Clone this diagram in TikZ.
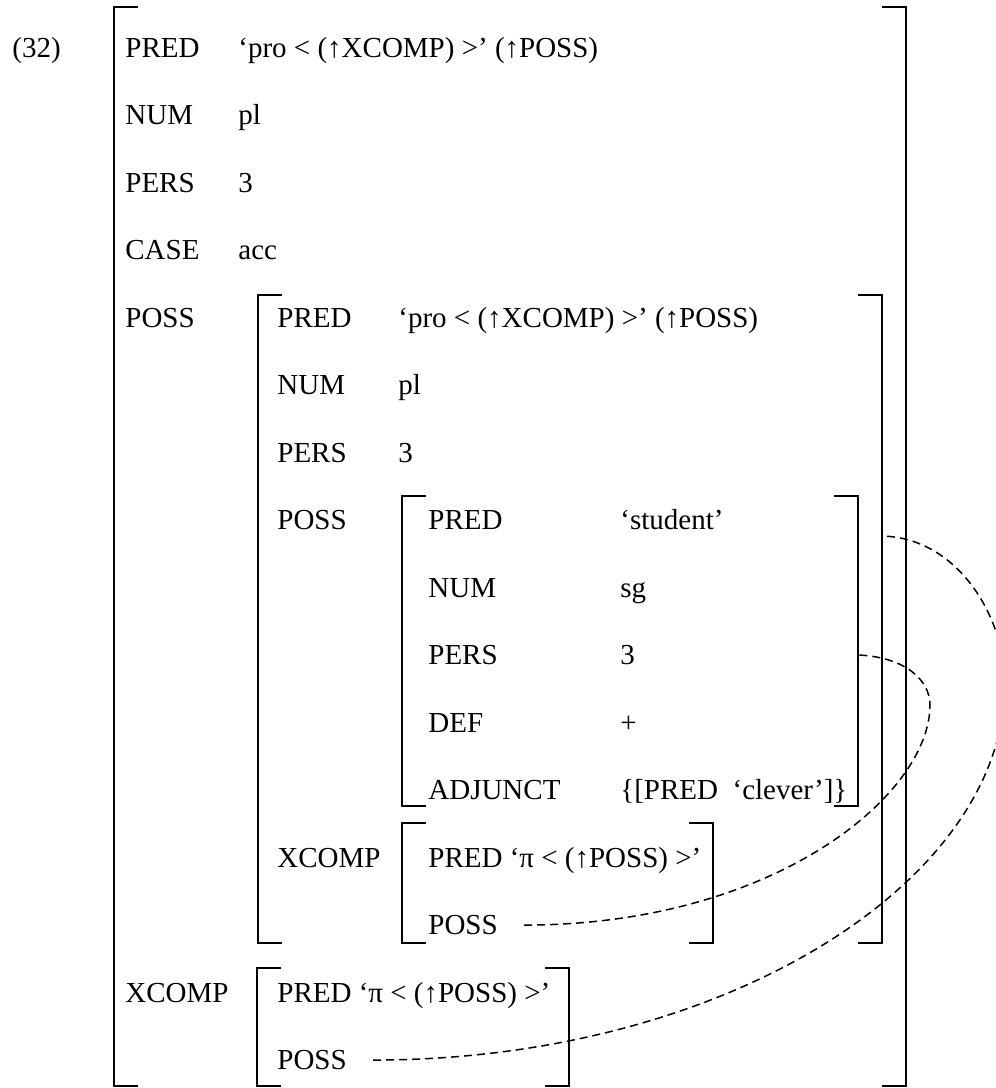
\documentclass[tikz,border=0pt]{standalone}
\usepackage{fontspec}
\setmainfont{Liberation Serif}

\begin{document}
\begin{tikzpicture}[x=0.5pt,y=-0.5pt,
  every node/.style={font=\fontsize{14.5pt}{17pt}\selectfont, anchor=base west, inner sep=0pt},
  brk/.style={line width=1pt},
  link/.style={line width=0.75pt, dash pattern=on 4pt off 2.5pt}]
\useasboundingbox (0,0) rectangle (996,1088);

% outer f-structure
\node (ex) at (12,57) {(32)};
\node (pred1) at (125,57) {PRED};
\node at (238,57) {‘pro < (↑XCOMP) >’ (↑POSS)};
\node (num1) at (125,124.5) {NUM};
\node at (238,124.5) {pl};
\node (pers1) at (125,192) {PERS};
\node at (238,192) {3};
\node (case1) at (125,259.5) {CASE};
\node at (238,259.5) {acc};
\node (poss1) at (125,327) {POSS};
\node (xcomp1) at (125,1002) {XCOMP};
\draw[brk] (138,7) -| (114,1086) -- (138,1086);
\draw[brk] (882,7) -| (906,1086) -- (882,1086);

% value of POSS
\node (pred2) at (277,327) {PRED};
\node at (398,327) {‘pro < (↑XCOMP) >’ (↑POSS)};
\node (num2) at (277,394.5) {NUM};
\node at (398,394.5) {pl};
\node (pers2) at (277,462) {PERS};
\node at (398,462) {3};
\node (poss2) at (277,529.5) {POSS};
\node (xcomp2) at (277,867) {XCOMP};
\draw[brk] (282,295) -| (258,943) -- (282,943);
\draw[brk] (858,295) -| (882,943) -- (858,943);
\coordinate (poss-r) at (882,536);

% the student
\node (pred3) at (428,529.5) {PRED};
\node at (620,529.5) {‘student’};
\node (num3) at (428,597) {NUM};
\node at (620,597) {sg};
\node (pers3) at (428,664.5) {PERS};
\node at (620,664.5) {3};
\node (def3) at (428,732) {DEF};
\node at (620,732) {+};
\node (adj3) at (428,799.5) {ADJUNCT};
\node at (620,799.5) {\{[PRED\ \ ‘clever’]\}};
\draw[brk] (426,496) -| (402,806) -- (426,806);
\draw[brk] (834,496) -| (858,806) -- (834,806);
\coordinate (stud-r) at (858,655);

% inner XCOMP
\node (predA) at (428,867) {PRED ‘π < (↑POSS) >’};
\node (possA) at (428,934.5) {POSS};
\draw[brk] (426,823) -| (402,943) -- (426,943);
\draw[brk] (689,823) -| (713,943) -- (689,943);

% outer XCOMP
\node (predB) at (277,1002) {PRED ‘π < (↑POSS) >’};
\node (possB) at (277,1069.5) {POSS};
\draw[brk] (281,968) -| (257,1086) -- (281,1086);
\draw[brk] (545,968) -| (569,1086) -- (545,1086);

% control links
\coordinate (bendA) at (930,705);
\coordinate (bendB) at (1005,683);
\draw[link] ([xshift=13pt]possA.east) .. controls +(250,0) and (930,795) .. (bendA)
  .. controls (930,680) and (905,657) .. (stud-r);
\draw[link] ([xshift=13pt]possB.east) .. controls +(350,0) and (1005,883) .. (bendB)
  .. controls (1005,620) and (960,538) .. (poss-r);
\end{tikzpicture}
\end{document}
